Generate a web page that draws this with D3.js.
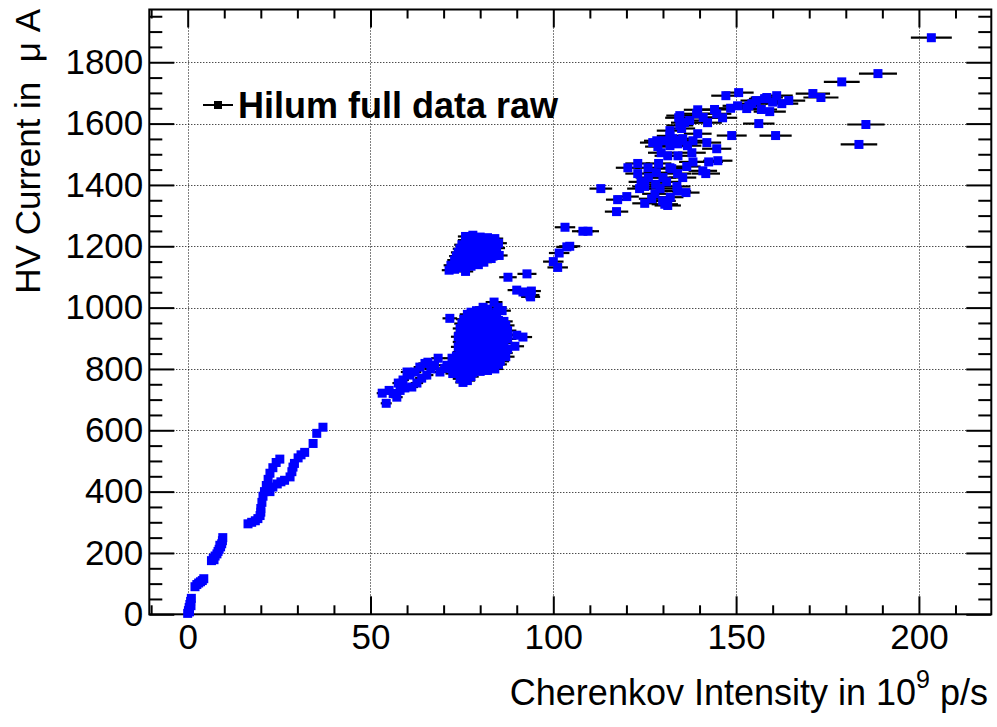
<!DOCTYPE html>
<html>
<head>
<meta charset="utf-8">
<script src="https://cdn.jsdelivr.net/npm/d3@7"></script>
<style>
  body { margin: 0; background: #fff; }
  svg { display: block; }
  text { font-family: "Liberation Sans", Arial, Helvetica, sans-serif; fill: #000; }
</style>
</head>
<body>
<svg id="chart" width="997" height="727"></svg>
<script>
// Hilum HV current versus Cherenkov intensity, points as [intensity, current, intensity error]

// start-up ramp, intensity below 40
const rampLow = [
  [0.0,3,0],[0.2,12,0],[0.4,22,0],[0.5,8,0],[0.6,32,0],[0.8,42,0],[0.9,28,0],[1.0,52,0],
  [2.0,90,0.1],[2.5,97,0.1],[3.0,102,0.1],[3.5,106,0.1],[4.0,110,0.1],[4.4,116,0.1],
  [6.5,175,0.2],[7.0,183,0.2],[7.2,178,0.2],[7.5,190,0.2],[8.0,197,0.2],[8.3,205,0.2],[8.6,212,0.2],
  [8.8,225,0.2],[9.0,220,0.2],[9.3,230,0.3],[9.5,240,0.3],[9.6,250,0.3],
  [16.5,295,0.5],[17.5,300,0.5],[18.5,305,0.5],[19.2,312,0.5],[19.8,322,0.5],[20.0,333,0.6],
  [20.0,345,0.6],[20.3,365,0.6],[20.6,385,0.6],[21.0,400,0.6],[21.5,420,0.6],[22.0,440,0.6],
  [22.5,460,0.6],[23.3,478,0.6],[24.2,495,0.7],[25.2,506,0.7],
  [22.5,400,0.6],[23.3,415,0.6],[24.5,425,0.7],[25.5,432,0.7],[26.5,437,0.7],[28.0,448,0.8],
  [28.5,465,0.8],[28.8,480,0.8],[29.2,492,0.8],[30.2,510,0.8],[31.0,520,0.9],[32.0,528,0.9],
  [34.3,557,0.9],[35.3,590,1.0],[37.0,610,1.0]
];

// intermediate band, intensity 53 to 72
const rampMid = [
  [53.2,721,1.5],[54.3,688,1.5],[55.1,730,1.5],[56.2,720,1.5],[57.2,708,1.6],[57.6,754,1.6],
  [58.1,730,1.6],[58.9,764,1.6],[59.4,738,1.6],[60.0,790,1.7],[60.8,780,1.7],[61.3,741,1.7],
  [62.2,790,1.7],[62.7,754,1.7],[63.5,806,1.7],[64.0,770,1.8],[64.9,818,1.8],[65.4,780,1.8],
  [65.7,822,1.8],[66.5,800,1.8],[67.5,812,1.9],[68.5,835,1.9],[69.0,790,1.9],[70.3,802,1.9],
  [70.9,812,1.9],[72.3,835,2.0]
];

// dense plateau around 80, lower current
const plateauLow = [
  [77.5,985,2.1],[79.0,990,2.2],[80.8,1001,2.2],[82.0,995,2.3],[83.8,1018,2.3],[84.9,1001,2.3],[86.0,990,2.4],
  [76.5,978,2.1],[78.5,975,2.2],[80.5,980,2.2],[82.5,978,2.3],[84.5,985,2.3],
  [75.5,962,2.1],[77.0,965,2.1],[79.0,968,2.2],[81.0,960,2.2],[83.0,965,2.3],[85.0,958,2.3],[86.5,955,2.4],
  [75.0,948,2.1],[77.0,950,2.1],[79.0,945,2.2],[81.0,948,2.2],[83.0,950,2.3],[85.0,945,2.3],[87.0,942,2.4],
  [74.5,932,2.0],[76.0,935,2.1],[78.0,930,2.1],[80.0,938,2.2],[82.0,928,2.3],[84.0,935,2.3],[86.0,930,2.4],[87.5,925,2.4],
  [75.0,918,2.1],[77.0,915,2.1],[79.0,920,2.2],[81.0,915,2.2],[83.0,918,2.3],[85.0,915,2.3],[87.0,912,2.4],
  [74.0,905,2.0],[75.5,900,2.1],[77.5,898,2.1],[79.5,905,2.2],[81.5,900,2.2],[83.5,895,2.3],[85.5,902,2.4],[87.5,898,2.4],
  [74.5,888,2.0],[76.5,885,2.1],[78.5,890,2.2],[80.5,885,2.2],[82.5,888,2.3],[84.5,885,2.3],[86.5,885,2.4],
  [74.0,872,2.0],[76.0,868,2.1],[78.0,875,2.1],[80.0,870,2.2],[82.0,866,2.3],[84.0,872,2.3],[86.0,868,2.4],[87.5,865,2.4],
  [74.5,855,2.0],[76.5,858,2.1],[78.5,852,2.2],[80.5,855,2.2],[82.5,852,2.3],[84.5,856,2.3],[86.5,852,2.4],
  [73.5,842,2.0],[75.5,838,2.1],[77.5,845,2.1],[79.5,840,2.2],[81.5,835,2.2],[83.5,842,2.3],[85.5,838,2.4],[87.0,840,2.4],
  [73.5,825,2.0],[75.5,822,2.1],[77.5,828,2.1],[79.5,825,2.2],[81.5,822,2.2],[83.5,826,2.3],[85.5,825,2.4],
  [73.0,812,2.0],[75.0,808,2.1],[77.0,815,2.1],[79.0,810,2.2],[81.0,806,2.2],[83.0,812,2.3],[85.0,815,2.3],
  [73.0,798,2.0],[75.0,800,2.1],[77.0,795,2.1],[79.0,800,2.2],[81.0,798,2.2],[83.0,805,2.3],
  [72.5,785,2.0],[74.0,790,2.0],[76.0,782,2.1],[78.0,788,2.1],[80.0,792,2.2],[82.0,795,2.3],[84.0,800,2.3],
  [74.5,768,2.0],[75.3,756,2.1],[76.5,762,2.1],[77.5,775,2.1],
  [71.7,965,2.0],[90.0,910,2.5],[91.7,904,2.5],[89.5,874,2.5]
];

// plateau around 80, higher current
const plateauHigh = [
  [76.0,1232,2.1],[78.0,1236,2.1],[80.0,1230,2.2],[82.0,1228,2.3],[84.0,1225,2.3],
  [76.0,1220,2.1],[78.0,1222,2.1],[80.0,1218,2.2],[82.0,1216,2.3],[84.0,1216,2.3],
  [75.0,1205,2.1],[77.0,1210,2.1],[79.0,1212,2.2],[81.0,1205,2.2],[83.0,1208,2.3],[85.0,1210,2.3],
  [74.5,1192,2.0],[76.5,1196,2.1],[78.5,1194,2.2],[80.5,1192,2.2],[82.5,1190,2.3],[84.5,1194,2.3],
  [74.0,1180,2.0],[76.0,1185,2.1],[78.0,1178,2.1],[80.0,1182,2.2],[82.0,1175,2.3],[84.0,1180,2.3],[85.2,1170,2.3],
  [73.5,1168,2.0],[75.5,1168,2.1],[77.5,1165,2.1],[79.5,1166,2.2],[81.5,1162,2.2],[83.5,1168,2.3],
  [73.0,1155,2.0],[75.0,1152,2.1],[77.0,1158,2.1],[79.0,1150,2.2],[81.0,1148,2.2],[83.0,1160,2.3],
  [72.0,1138,2.0],[74.0,1142,2.0],[76.0,1140,2.1],[78.0,1145,2.1],
  [71.5,1122,2.0],[73.0,1125,2.0],[74.5,1130,2.0],[76.0,1118,2.1],[77.5,1135,2.1],[79.5,1140,2.2]
];

// isolated points between 85 and 110
const transition = [
  [87.6,1099,2.4],[92.8,1110,2.6],[90.0,1057,2.5],[91.7,1051,2.5],[93.6,1041,2.6],[94.0,1054,2.6],[93.8,1035,2.6],
  [100.0,1150,2.8],[101.2,1131,2.8],[101.6,1178,2.8],[103.7,1198,2.9],[104.5,1200,2.9],
  [103.2,1262,2.8],[108.1,1249,3.0],[109.5,1249,3.0]
];

// high-intensity running, above 110
const highRun = [
  [113.0,1388,3.1],[117.6,1352,3.2],[117.3,1313,3.2],[120.1,1362,3.3],[123.6,1388,3.4],[125.0,1340,3.4],
  [126.9,1355,3.5],[127.8,1371,3.5],[129.2,1388,3.6],[131.3,1333,3.6],[133.8,1395,3.7],[136.3,1375,3.7],
  [129.9,1348,3.6],[130.5,1337,3.6],[132.0,1360,3.6],[134.0,1380,3.7],[125.0,1395,3.4],[128.0,1402,3.5],
  [131.0,1410,3.6],[124.0,1410,3.4],
  [123.1,1470,3.4],[120.4,1456,3.3],[123.1,1437,3.4],[125.9,1456,3.5],[128.8,1470,3.5],[128.2,1440,3.5],
  [132.4,1453,3.6],[134.0,1437,3.7],[135.4,1424,3.7],[140.9,1446,3.9],[141.7,1437,3.9],[138.2,1475,3.8],
  [142.5,1475,3.9],[145.0,1479,4.0],[130.0,1424,3.6],[126.0,1424,3.5],[131.9,1456,3.6],[136.5,1460,3.8],
  [131.9,1577,3.6],[135.1,1584,3.7],[131.9,1560,3.6],[134.6,1545,3.7],[128.3,1544,3.5],[127.2,1538,3.5],
  [128.6,1525,3.5],[130.5,1544,3.6],[131.9,1528,3.6],[132.7,1551,3.6],[134.1,1534,3.7],[135.4,1551,3.7],
  [136.7,1528,3.8],[138.2,1544,3.8],[139.5,1567,3.8],[142.0,1538,3.9],[144.7,1518,4.0],[137.9,1505,3.8],
  [134.1,1495,3.7],[131.3,1495,3.6],[129.5,1505,3.6],[148.8,1561,4.1],
  [144.1,1646,4.0],[142.2,1603,3.9],[146.3,1619,4.0],[144.7,1632,4.0],[139.2,1632,3.8],[134.3,1619,3.7],
  [137.3,1610,3.8],[134.6,1594,3.7],[134.6,1626,3.7],[135.9,1603,3.7],[139.5,1645,3.8],[147.2,1691,4.0],
  [150.7,1701,4.1],[150.4,1658,4.1],[152.9,1649,4.2],[154.3,1665,4.2],[156.2,1600,4.3],[160.8,1561,4.4],
  [161.1,1691,4.4],[158.4,1685,4.4],[164.4,1675,4.5],[162.5,1665,4.5],[155.5,1675,4.3],[159.2,1639,4.4],
  [156.9,1646,4.3],[157.8,1681,4.3],[160.0,1670,4.4],[153.5,1658,4.2],[148.5,1650,4.1],[141.0,1620,3.9],
  [171.0,1698,4.7],[173.2,1685,4.8],[178.9,1736,4.9],[188.8,1763,5.2],[185.5,1597,5.1],[183.6,1532,5.0],
  [203.4,1880,5.6]
];

const xMajorTicks = [0, 50, 100, 150, 200];
const xMinorTicks = [-10, 10, 20, 30, 40, 60, 70, 80, 90, 110, 120, 130, 140, 160, 170, 180, 190, 210];
const yMajorTicks = [0, 200, 400, 600, 800, 1000, 1200, 1400, 1600, 1800];
const yMinorTicks = [50, 100, 150, 250, 300, 350, 450, 500, 550, 650, 700, 750, 850, 900, 950,
  1050, 1100, 1150, 1250, 1300, 1350, 1450, 1500, 1550, 1650, 1700, 1750, 1850, 1900, 1950];
const xDomain = [-10.5, 219.8];
const yDomain = [0, 1972];
const legendLabel = "Hilum full data raw";
const xTitle = "Cherenkov Intensity in 10";
const xTitleExp = "9";
const xTitleUnit = " p/s";
const yTitle = "HV Current in  \u03bc A";

const points = [].concat(rampLow, rampMid, plateauLow, plateauHigh, transition, highRun)
  .map(([xv, yv, ex]) => ({ xv, yv, ex }));

const svg = d3.select("#chart");
const frame = { left: 149.3, right: 991.3, top: 9.5, bottom: 614.3 };

svg.append("rect").attr("width", 997).attr("height", 727).attr("fill", "#fff");

const x = d3.scaleLinear().domain(xDomain).range([frame.left, frame.right]);
const y = d3.scaleLinear().domain(yDomain).range([frame.bottom, frame.top]);

// dotted grid at the major ticks
const grid = svg.append("g").attr("stroke", "#000").attr("stroke-width", 1)
  .attr("stroke-dasharray", "1,2").attr("fill", "none");
grid.selectAll("line.gx").data(xMajorTicks).join("line").attr("class", "gx")
  .attr("x1", d => Math.round(x(d)) + 0.5).attr("x2", d => Math.round(x(d)) + 0.5)
  .attr("y1", frame.top).attr("y2", frame.bottom);
grid.selectAll("line.gy").data(yMajorTicks).join("line").attr("class", "gy")
  .attr("y1", d => Math.round(y(d)) + 0.5).attr("y2", d => Math.round(y(d)) + 0.5)
  .attr("x1", frame.left).attr("x2", frame.right);

// axes on all four sides, ticks pointing inwards
function styleAxis(g) {
  g.select(".domain").remove();
  g.selectAll(".tick line").attr("stroke", "#000").attr("stroke-width", 2);
  g.selectAll(".tick text").style("font-size", "35px")
    .style("font-family", '"Liberation Sans", Arial, sans-serif').attr("fill", "#000");
}
svg.append("g").attr("transform", `translate(0,${frame.bottom})`)
  .call(d3.axisBottom(x).tickValues(xMajorTicks).tickSizeInner(-18).tickSizeOuter(0).tickPadding(10).tickFormat(d3.format("d")))
  .call(styleAxis);
svg.append("g").attr("transform", `translate(0,${frame.bottom})`)
  .call(d3.axisBottom(x).tickValues(xMinorTicks).tickSizeInner(-9).tickSizeOuter(0).tickFormat(""))
  .call(styleAxis);
svg.append("g").attr("transform", `translate(0,${frame.top})`)
  .call(d3.axisTop(x).tickValues(xMajorTicks).tickSizeInner(-18).tickSizeOuter(0).tickFormat(""))
  .call(styleAxis);
svg.append("g").attr("transform", `translate(0,${frame.top})`)
  .call(d3.axisTop(x).tickValues(xMinorTicks).tickSizeInner(-9).tickSizeOuter(0).tickFormat(""))
  .call(styleAxis);
svg.append("g").attr("transform", `translate(${frame.left},0)`)
  .call(d3.axisLeft(y).tickValues(yMajorTicks).tickSizeInner(-25).tickSizeOuter(0).tickPadding(6).tickFormat(d3.format("d")))
  .call(styleAxis);
svg.append("g").attr("transform", `translate(${frame.left},0)`)
  .call(d3.axisLeft(y).tickValues(yMinorTicks).tickSizeInner(-13).tickSizeOuter(0).tickFormat(""))
  .call(styleAxis);
svg.append("g").attr("transform", `translate(${frame.right},0)`)
  .call(d3.axisRight(y).tickValues(yMajorTicks).tickSizeInner(-25).tickSizeOuter(0).tickFormat(""))
  .call(styleAxis);
svg.append("g").attr("transform", `translate(${frame.right},0)`)
  .call(d3.axisRight(y).tickValues(yMinorTicks).tickSizeInner(-13).tickSizeOuter(0).tickFormat(""))
  .call(styleAxis);

// frame
svg.append("rect")
  .attr("x", frame.left).attr("y", frame.top)
  .attr("width", frame.right - frame.left).attr("height", frame.bottom - frame.top)
  .attr("fill", "none").attr("stroke", "#000").attr("stroke-width", 2);

// horizontal error bars, then markers on top
const plot = svg.append("g");
plot.selectAll("line.err").data(points).join("line").attr("class", "err")
  .attr("x1", d => x(d.xv - d.ex)).attr("x2", d => x(d.xv + d.ex))
  .attr("y1", d => y(d.yv)).attr("y2", d => y(d.yv))
  .attr("stroke", "#000").attr("stroke-width", 2.2);
const ms = 9;
plot.selectAll("rect.pt").data(points).join("rect").attr("class", "pt")
  .attr("x", d => x(d.xv) - ms / 2).attr("y", d => y(d.yv) - ms / 2)
  .attr("width", ms).attr("height", ms)
  .attr("fill", "#0000ff");

// legend entry
const leg = svg.append("g");
leg.append("line").attr("x1", 203).attr("x2", 233).attr("y1", 105).attr("y2", 105)
  .attr("stroke", "#000").attr("stroke-width", 2);
leg.append("rect").attr("x", 214).attr("y", 101).attr("width", 8).attr("height", 8).attr("fill", "#000");
leg.append("text").attr("x", 238).attr("y", 118)
  .style("font-size", "36px").style("font-weight", "bold").text(legendLabel);

// axis titles
const xt = svg.append("text").attr("x", 988).attr("y", 705).attr("text-anchor", "end")
  .style("font-size", "36px");
xt.append("tspan").text(xTitle);
xt.append("tspan").attr("dy", -17).style("font-size", "25px").text(xTitleExp);
xt.append("tspan").attr("dy", 17).style("white-space", "pre").text(xTitleUnit);

svg.append("text").attr("transform", "translate(40,9) rotate(-90)")
  .attr("text-anchor", "end").style("font-size", "35px").style("white-space", "pre")
  .text(yTitle);
</script>
</body>
</html>
